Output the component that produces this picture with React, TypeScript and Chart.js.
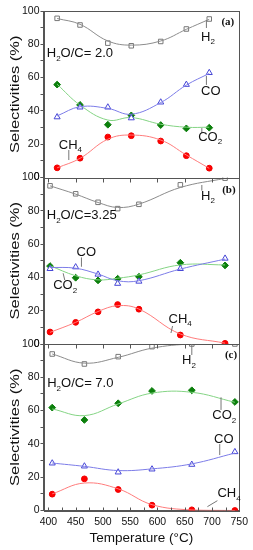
import React, { useEffect, useRef } from 'react';
import { Chart, registerables } from 'chart.js';

Chart.register(...registerables);

// ---------- data ----------
const xTickValues = [400, 450, 500, 550, 600, 650, 700, 750];
const xBottomTicks = [400, 425, 450, 475, 500, 525, 550, 575, 600, 625, 650, 675, 700, 725, 750];

// panel (a) H2O/C = 2.0
const tempsA = [416, 458, 509, 552, 606, 653, 695];
const h2A = [95.6, 91.6, 80.7, 79.1, 81.7, 89.2, 95.2];
const coA = [36.3, 42.2, 42.2, 35.7, 45.2, 55.8, 62.9];
const co2A = [55.8, 43.6, 31.7, 37.3, 31.5, 29.5, 29.9];
const ch4A = [5.8, 11.6, 24.3, 25.1, 21.9, 13.1, 5.6];
const h2FitA = [95.5, 92.0, 82.0, 79.5, 82.0, 89.0, 95.0];
const coFitA = [37.0, 42.5, 41.5, 38.0, 45.0, 55.5, 62.5];
const co2FitA = [56.0, 43.5, 34.5, 36.0, 32.0, 30.2, 30.2];
const ch4FitA = [5.8, 11.5, 23.0, 25.5, 22.5, 13.5, 5.5];

// panel (b) H2O/C = 3.25
const tempsB = [403, 450, 491, 527, 566, 642, 724];
const h2B = [95.0, 90.2, 85.1, 81.3, 83.9, 95.6, 99.6];
const coB = [45.2, 46.2, 41.8, 36.3, 37.6, 45.2, 51.4];
const co2B = [46.8, 39.8, 38.2, 39.2, 40.4, 48.8, 47.2];
const ch4B = [7.2, 13.0, 19.3, 23.7, 20.9, 5.4, 0.4];
const h2FitB = [95.0, 90.0, 85.0, 82.0, 84.0, 94.0, 99.5];
const coFitB = [46.0, 45.5, 42.0, 38.0, 38.0, 45.0, 51.0];
const co2FitB = [47.0, 41.0, 38.5, 39.5, 41.5, 47.5, 47.5];
const ch4FitB = [7.0, 13.0, 19.5, 23.0, 21.0, 6.0, 0.5];

// panel (c) H2O/C = 7.0
const tempsC = [407, 466, 528, 590, 663, 742];
const h2C = [94.0, 88.0, 92.4, 98.4, 100, 100];
const co2C = [61.8, 54.4, 64.4, 71.8, 72.2, 65.2];
const coC = [28.4, 26.6, 23.0, 24.8, 27.6, 35.2];
const ch4C = [9.8, 19.0, 12.6, 3.2, 0.4, 0.0];
const h2FitC = [94.0, 88.5, 92.0, 97.5, 100, 100];
const co2FitC = [61.0, 57.0, 64.0, 70.5, 71.0, 65.0];
const coFitC = [28.5, 26.5, 24.0, 25.0, 28.0, 34.5];
const ch4FitC = [10.0, 16.5, 13.0, 3.5, 0.3, 0.0];

// ---------- annotations (data coordinates) ----------
type Note = { axis: string; x: number; y: number; text: string; kind?: 'panel' };
type Leader = { axis: string; x1: number; y1: number; x2: number; y2: number };

const notes: Note[] = [
  { axis: 'yA', x: 729, y: 93.4, text: '(a)', kind: 'panel' },
  { axis: 'yA', x: 680, y: 84.4, text: 'H_2' },
  { axis: 'yA', x: 680, y: 51.4, text: 'CO' },
  { axis: 'yA', x: 674.6, y: 24.3, text: 'CO_2' },
  { axis: 'yA', x: 419, y: 19.5, text: 'CH_4' },
  { axis: 'yA', x: 397, y: 74.6, text: 'H_2O/C= 2.0' },
  { axis: 'yB', x: 731, y: 92.5, text: '(b)', kind: 'panel' },
  { axis: 'yB', x: 680, y: 88.9, text: 'H_2' },
  { axis: 'yB', x: 397, y: 77.2, text: 'H_2O/C=3.25' },
  { axis: 'yB', x: 451.5, y: 55.3, text: 'CO' },
  { axis: 'yB', x: 408.8, y: 35, text: 'CO_2' },
  { axis: 'yB', x: 620.4, y: 15, text: 'CH_4' },
  { axis: 'yC', x: 735, y: 93.1, text: '(c)', kind: 'panel' },
  { axis: 'yC', x: 645, y: 90.1, text: 'H_2' },
  { axis: 'yC', x: 397.8, y: 76.4, text: 'H_2O/C= 7.0' },
  { axis: 'yC', x: 700.7, y: 56.9, text: 'CO_2' },
  { axis: 'yC', x: 703.8, y: 42.9, text: 'CO' },
  { axis: 'yC', x: 709.9, y: 10.3, text: 'CH_4' },
];

const leaders: Leader[] = [
  { axis: 'yA', x1: 689.8, y1: 94.6, x2: 689.8, y2: 89.8 },
  { axis: 'yA', x1: 689.8, y1: 61, x2: 689.8, y2: 55.6 },
  { axis: 'yA', x1: 681.4, y1: 29.7, x2: 681.4, y2: 26.7 },
  { axis: 'yA', x1: 437.4, y1: 16.5, x2: 437.4, y2: 10.5 },
  { axis: 'yB', x1: 681.4, y1: 95.5, x2: 681.4, y2: 92.1 },
  { axis: 'yB', x1: 460.6, y1: 52, x2: 460.6, y2: 46.4 },
  { axis: 'yB', x1: 427, y1: 42.5, x2: 430, y2: 38.4 },
  { axis: 'yB', x1: 627.7, y1: 10.8, x2: 624.8, y2: 6.6 },
  { axis: 'yC', x1: 663, y1: 100, x2: 663, y2: 93.4 },
  { axis: 'yC', x1: 716.6, y1: 68, x2: 716.6, y2: 60.4 },
  { axis: 'yC', x1: 714.2, y1: 39.9, x2: 714.2, y2: 33.3 },
  { axis: 'yC', x1: 691.6, y1: 2.3, x2: 709.9, y2: 5.9 },
];

const yTitle = 'Selectivities (%)';
const xTitle = 'Temperature (°C)';

// ---------- styles ----------
const FONT = "'Liberation Sans', Arial, sans-serif";
const AXIS = '#555555';
const styles = {
  h2: { line: '#8c8c8c', point: '#777777', fill: '#ffffff', shape: 'rect', r: 3.2 },
  co: { line: '#7c7ce8', point: '#4646d6', fill: '#ffffff', shape: 'triangle', r: 3.5 },
  co2: { line: '#84d484', point: '#0b7f0b', fill: '#0b7f0b', shape: 'rectRot', r: 3.4 },
  ch4: { line: '#ff7c7c', point: '#f00000', fill: '#ff0000', shape: 'circle', r: 2.9 },
};

function pts(xs: number[], ys: number[]) {
  return xs.map((x, i) => ({ x, y: ys[i] }));
}

function seriesPair(axis: string, xs: number[], vals: number[], fit: number[], st: any) {
  return [
    {
      type: 'line',
      data: pts(xs, fit),
      yAxisID: axis,
      borderColor: st.line,
      borderWidth: 1,
      pointRadius: 0,
      tension: 0.4,
      fill: false,
    },
    {
      type: 'line',
      data: pts(xs, vals),
      yAxisID: axis,
      showLine: false,
      pointStyle: st.shape,
      pointRadius: st.r,
      pointBackgroundColor: st.fill,
      pointBorderColor: st.point,
      pointBorderWidth: 1,
    },
  ];
}

function drawRich(ctx: CanvasRenderingContext2D, text: string, x: number, y: number, size: number) {
  let cx = x;
  let i = 0;
  while (i < text.length) {
    if (text[i] === '_' && i + 1 < text.length) {
      ctx.font = `${Math.round(size * 0.62)}px ${FONT}`;
      ctx.fillText(text[i + 1], cx, y + size * 0.4);
      cx += ctx.measureText(text[i + 1]).width;
      i += 2;
    } else {
      let j = i;
      while (j < text.length && text[j] !== '_') j++;
      const seg = text.slice(i, j);
      ctx.font = `${size}px ${FONT}`;
      ctx.fillText(seg, cx, y);
      cx += ctx.measureText(seg).width;
      i = j;
    }
  }
}

const annotPlugin = {
  id: 'annot',
  afterDatasetsDraw(chart: any) {
    const ctx = chart.ctx as CanvasRenderingContext2D;
    const xs = chart.scales.x;
    const area = chart.chartArea;
    ctx.save();
    // frames for each panel
    ctx.strokeStyle = AXIS;
    ctx.lineWidth = 1;
    const l = Math.round(area.left) + 0.5;
    const r = Math.round(area.right) + 0.5;
    ['yA', 'yB', 'yC'].forEach((id) => {
      const s = chart.scales[id];
      const t = Math.round(s.top) + 0.5;
      const b = Math.round(s.bottom) + 0.5;
      ctx.strokeRect(l, t, r - l, b - t);
    });
    // inward ticks on bottom axis
    const bottom = Math.round(chart.scales.yC.bottom) + 0.5;
    ctx.beginPath();
    xBottomTicks.forEach((v) => {
      const px = Math.round(xs.getPixelForValue(v)) + 0.5;
      ctx.moveTo(px, bottom);
      ctx.lineTo(px, bottom - 4);
    });
    // ticks at panel boundaries
    ['yA', 'yB'].forEach((id) => {
      const by = Math.round(chart.scales[id].bottom) + 0.5;
      xTickValues.forEach((v) => {
        const px = Math.round(xs.getPixelForValue(v)) + 0.5;
        ctx.moveTo(px, by);
        ctx.lineTo(px, by + 4);
      });
    });
    ctx.stroke();
    // y titles (slightly condensed like the source figure)
    ctx.fillStyle = '#111111';
    ctx.textAlign = 'center';
    ctx.textBaseline = 'middle';
    ['yA', 'yB', 'yC'].forEach((id) => {
      const s = chart.scales[id];
      ctx.save();
      ctx.translate(15.3, (s.top + s.bottom) / 2);
      ctx.rotate(-Math.PI / 2);
      ctx.scale(1, 0.8);
      ctx.font = `16.5px ${FONT}`;
      ctx.fillText(yTitle, 0, 0);
      ctx.restore();
    });
    // leaders
    ctx.strokeStyle = '#777777';
    leaders.forEach((ld) => {
      const ys = chart.scales[ld.axis];
      ctx.beginPath();
      ctx.moveTo(xs.getPixelForValue(ld.x1), ys.getPixelForValue(ld.y1));
      ctx.lineTo(xs.getPixelForValue(ld.x2), ys.getPixelForValue(ld.y2));
      ctx.stroke();
    });
    // texts
    notes.forEach((n) => {
      const ys = chart.scales[n.axis];
      const px = xs.getPixelForValue(n.x);
      const py = ys.getPixelForValue(n.y);
      if (n.kind === 'panel') {
        ctx.font = `bold 11px 'Liberation Serif', 'Times New Roman', serif`;
        ctx.textAlign = 'center';
        ctx.fillText(n.text, px, py);
      } else {
        ctx.textAlign = 'left';
        drawRich(ctx, n.text, px, py, 13);
      }
    });
    ctx.restore();
  },
};

function yAxis() {
  return {
    type: 'linear',
    position: 'left',
    stack: 'panels',
    stackWeight: 1,
    min: 0,
    max: 100,
    border: { display: true, color: AXIS, width: 1 },
    grid: { drawOnChartArea: false, drawTicks: true, tickLength: 3, color: AXIS },
    ticks: {
      stepSize: 10,
      autoSkip: false,
      padding: 1,
      color: '#111111',
      font: { family: FONT, size: 10.5 },
      callback: (v: number) => (v % 20 === 0 ? String(v) : ''),
    },
    title: { display: false },
    afterFit: (s: any) => {
      s.width = 43.5;
    },
  };
}

export default function App() {
  const ref = useRef<HTMLCanvasElement | null>(null);
  useEffect(() => {
    document.body.style.margin = '0';
    if (!ref.current) return;
    const datasets: any[] = [
      ...seriesPair('yA', tempsA, h2A, h2FitA, styles.h2),
      ...seriesPair('yA', tempsA, coA, coFitA, styles.co),
      ...seriesPair('yA', tempsA, co2A, co2FitA, styles.co2),
      ...seriesPair('yA', tempsA, ch4A, ch4FitA, styles.ch4),
      ...seriesPair('yB', tempsB, h2B, h2FitB, styles.h2),
      ...seriesPair('yB', tempsB, coB, coFitB, styles.co),
      ...seriesPair('yB', tempsB, co2B, co2FitB, styles.co2),
      ...seriesPair('yB', tempsB, ch4B, ch4FitB, styles.ch4),
      ...seriesPair('yC', tempsC, h2C, h2FitC, styles.h2),
      ...seriesPair('yC', tempsC, co2C, co2FitC, styles.co2),
      ...seriesPair('yC', tempsC, coC, coFitC, styles.co),
      ...seriesPair('yC', tempsC, ch4C, ch4FitC, styles.ch4),
    ];
    const chart = new Chart(ref.current, {
      type: 'line',
      data: { datasets },
      plugins: [annotPlugin],
      options: {
        responsive: false,
        animation: false,
        layout: { padding: { top: 11, right: 13, left: 0, bottom: 0 } },
        plugins: { legend: { display: false }, tooltip: { enabled: false } },
        scales: {
          x: {
            type: 'linear',
            position: 'bottom',
            min: 391,
            max: 750,
            border: { display: true, color: AXIS, width: 1 },
            grid: { drawOnChartArea: false, drawTicks: false, color: AXIS },
            afterBuildTicks: (s: any) => {
              s.ticks = xTickValues.map((v) => ({ value: v }));
            },
            ticks: {
              autoSkip: false,
              maxRotation: 0,
              padding: 5,
              color: '#111111',
              font: { family: FONT, size: 10.5 },
            },
            title: {
              display: true,
              text: xTitle,
              color: '#111111',
              font: { family: FONT, size: 13.5 },
              padding: { top: 2, bottom: 4 },
            },
            afterFit: (s: any) => {
              s.height = 39.5;
            },
          },
          yC: yAxis(),
          yB: yAxis(),
          yA: yAxis(),
        } as any,
      },
    } as any);
    return () => chart.destroy();
  }, []);
  return (
    <div style={{ width: 253, height: 550 }}>
      <canvas ref={ref} width={253} height={550} style={{ display: 'block' }} />
    </div>
  );
}
